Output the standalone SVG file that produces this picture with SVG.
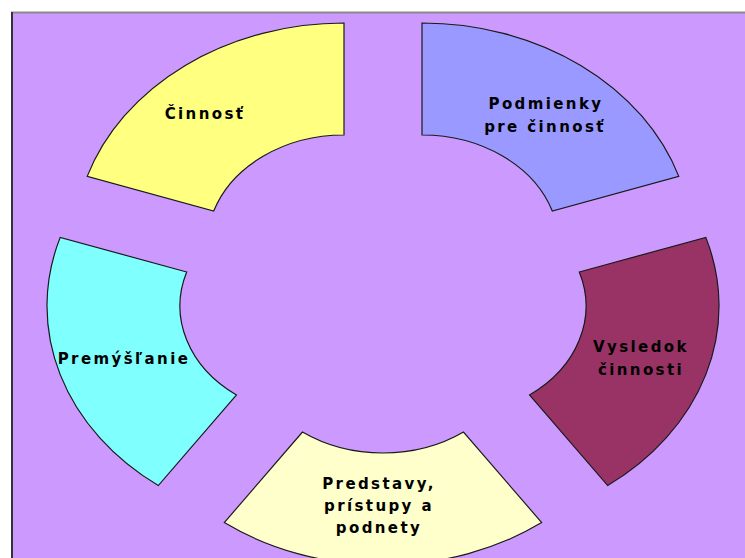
<svg xmlns="http://www.w3.org/2000/svg" width="745" height="558" viewBox="0 0 745 558">
<style>
.seg{stroke:#1a1a1a;stroke-width:1.2;stroke-linejoin:miter}
.lbl{font-family:"DejaVu Sans","Liberation Sans",sans-serif;font-weight:bold;font-size:15px;letter-spacing:2.4px;fill:#000;text-anchor:middle}
</style>
<rect x="0" y="0" width="745" height="558" fill="#ffffff"/>
<rect x="12" y="13" width="740" height="550" fill="#cc99ff"/>
<line x1="11" y1="12.5" x2="745" y2="12.5" stroke="#8a8a8a" stroke-width="2"/>
<line x1="12" y1="12" x2="12" y2="558" stroke="#333333" stroke-width="2"/>
<g id="connectors"></g>
<g id="cinnost">
<path class="seg" fill="#ffff80" d="M344,23 A270,222 0 0 0 87.2,176.4 L213.7,211 A137,110 0 0 1 344,135 Z"/>
<text class="lbl" x="205" y="119">Činnosť</text>
</g>
<g id="podmienky">
<path class="seg" fill="#9999ff" d="M422,23 A270,222 0 0 1 678.8,176.4 L552.3,211 A137,110 0 0 0 422,135 Z"/>
<text class="lbl" x="546" y="109">Podmienky</text>
<text class="lbl" x="545" y="132">pre činnosť</text>
</g>
<g id="vysledok">
<path class="seg" fill="#993366" d="M579.3,272 L705.8,237.4 A270,222 0 0 1 607.7,485.6 L529.5,395 A137,110 0 0 0 579.3,272 Z"/>
<text class="lbl" x="641" y="352">Vysledok</text>
<text class="lbl" x="641" y="375">činnosti</text>
</g>
<g id="predstavy">
<path class="seg" fill="#ffffcc" d="M302.5,432 L224.3,522.6 A270,222 0 0 0 541.7,522.6 L463.5,432 A137,110 0 0 1 302.5,432 Z"/>
<text class="lbl" x="379" y="489">Predstavy,</text>
<text class="lbl" x="379" y="511">prístupy a</text>
<text class="lbl" x="379" y="533">podnety</text>
</g>
<g id="premyslanie">
<path class="seg" fill="#80ffff" d="M186.7,272 L60.2,237.4 A270,222 0 0 0 158.3,485.6 L236.5,395 A137,110 0 0 1 186.7,272 Z"/>
<text class="lbl" x="124" y="364">Premýšľanie</text>
</g>
</svg>
